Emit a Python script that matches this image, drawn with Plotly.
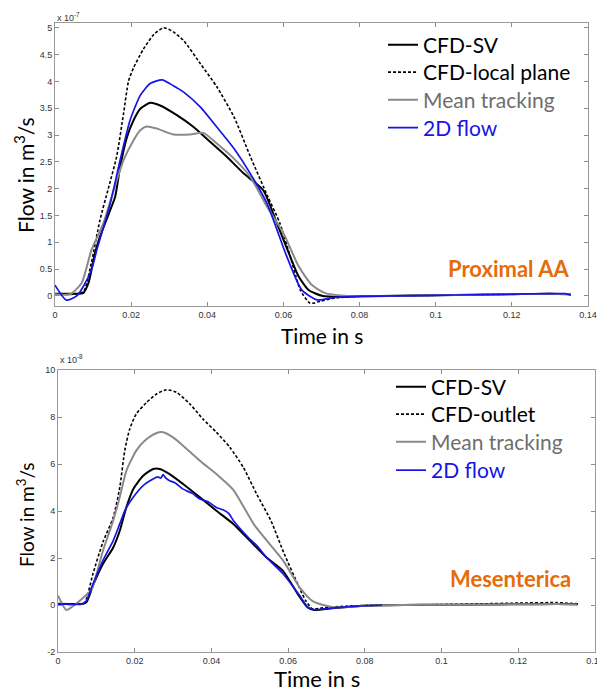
import plotly.graph_objects as go

# The page has an 8px body margin, so the figure is sized to fill the rest of the 605x693 window.
PAGE_OFF = 8
W, H = 605 - PAGE_OFF, 693 - PAGE_OFF

# ---------------- Top panel: Proximal AA (values in 1e-7 m^3/s) ----------------
top_sv_t = [0, 0.004, 0.0074, 0.0088, 0.0105, 0.0118, 0.0145, 0.0158, 0.0171, 0.0189, 0.0206, 0.0224,
            0.025, 0.0276, 0.032, 0.0364, 0.0408, 0.0452, 0.0496, 0.0547, 0.0583, 0.0618, 0.064, 0.0666,
            0.0701, 0.075, 0.08, 0.09, 0.1, 0.11, 0.12, 0.13, 0.1355]
top_sv_v = [0.04, 0.04, 0.05, 0.24, 0.8, 1.1, 1.6, 1.85, 2.4, 2.96, 3.27, 3.49,
            3.6, 3.55, 3.37, 3.15, 2.87, 2.59, 2.28, 1.97, 1.35, 0.73, 0.36, 0.11,
            0.0, -0.02, -0.01, 0.0, 0.01, 0.02, 0.03, 0.04, 0.03]

top_lp_t = [0, 0.005, 0.0075, 0.0095, 0.0118, 0.014, 0.0162, 0.018, 0.0193, 0.0206, 0.0232, 0.026,
            0.0285, 0.031, 0.0338, 0.0382, 0.0425, 0.047, 0.0513, 0.0559, 0.0591, 0.0618, 0.0633, 0.0644,
            0.067, 0.0697, 0.0736, 0.08, 0.09, 0.1, 0.11, 0.12, 0.13, 0.1355]
top_lp_v = [0.03, 0.03, 0.08, 0.6, 1.41, 2.0, 2.6, 3.4, 4.0, 4.25, 4.6, 4.88,
            5.0, 4.93, 4.76, 4.33, 3.9, 3.34, 2.6, 1.85, 1.35, 0.73, 0.36, 0.11,
            -0.14, -0.1, -0.04, -0.01, 0.0, 0.01, 0.02, 0.03, 0.04, 0.03]

top_mt_t = [0, 0.004, 0.007, 0.0096, 0.0127, 0.0154, 0.018, 0.0206, 0.0224, 0.0241, 0.0268, 0.0311,
            0.0355, 0.039, 0.0425, 0.047, 0.0513, 0.0557, 0.06, 0.064, 0.0675, 0.071, 0.076, 0.08,
            0.09, 0.1, 0.11, 0.12, 0.13, 0.1355]
top_mt_v = [0.03, 0.03, 0.24, 0.86, 1.35, 1.97, 2.53, 2.9, 3.09, 3.16, 3.12, 3.01,
            3.01, 3.04, 2.84, 2.56, 2.22, 1.66, 1.17, 0.55, 0.2, 0.05, 0.0, -0.01,
            0.0, 0.01, 0.02, 0.03, 0.04, 0.03]

top_2d_t = [0, 0.003, 0.0057, 0.0074, 0.0096, 0.011, 0.0145, 0.0171, 0.0197, 0.0224, 0.025, 0.0281,
            0.0311, 0.0338, 0.0382, 0.0425, 0.047, 0.0513, 0.0557, 0.0609, 0.0648, 0.0688, 0.0736, 0.08,
            0.09, 0.1, 0.11, 0.12, 0.13, 0.134, 0.1355]
top_2d_v = [0.2, -0.08, 0.0, 0.17, 0.49, 0.86, 1.72, 2.53, 3.27, 3.74, 3.96, 4.03,
            3.92, 3.8, 3.52, 3.15, 2.75, 2.28, 1.72, 0.73, 0.11, -0.075, -0.03, -0.01,
            0.0, 0.01, 0.02, 0.03, 0.04, 0.04, 0.01]

# ---------------- Bottom panel: Mesenterica (values in 1e-8 m^3/s) ----------------
bot_sv_t = [0, 0.0065, 0.0074, 0.0091, 0.0117, 0.0144, 0.0161, 0.0178, 0.0196, 0.0222, 0.0248, 0.0265,
            0.0291, 0.0326, 0.037, 0.0413, 0.0457, 0.05, 0.0543, 0.0586, 0.0625, 0.0651, 0.0668, 0.072,
            0.08, 0.09, 0.1, 0.11, 0.12, 0.13, 0.1355]
bot_sv_v = [0.05, 0.05, 0.11, 0.82, 1.74, 2.45, 3.16, 4.15, 4.93, 5.5, 5.79, 5.79,
            5.57, 5.15, 4.58, 4.01, 3.45, 2.74, 2.03, 1.46, 0.47, -0.1, -0.21, -0.13,
            -0.03, 0.0, 0.01, 0.02, 0.03, 0.04, 0.03]

bot_ol_t = [0, 0.0065, 0.0074, 0.0091, 0.0117, 0.0144, 0.0161, 0.0174, 0.0187, 0.0204, 0.0231, 0.0257,
            0.0283, 0.0309, 0.0344, 0.0378, 0.0413, 0.0448, 0.0483, 0.0518, 0.0555, 0.059, 0.0629, 0.0646,
            0.0664, 0.069, 0.075, 0.08, 0.09, 0.1, 0.11, 0.12, 0.13, 0.1355]
bot_ol_v = [0.05, 0.05, 0.26, 1.32, 2.67, 3.73, 5.0, 6.57, 7.49, 8.13, 8.62, 8.98,
            9.16, 9.05, 8.55, 7.91, 7.35, 6.71, 5.86, 4.72, 3.59, 2.17, 0.75, 0.18,
            -0.17, -0.12, -0.05, -0.02, 0.0, 0.02, 0.05, 0.08, 0.1, 0.05]

bot_mt_t = [0, 0.0022, 0.0043, 0.0065, 0.0087, 0.0117, 0.0144, 0.0161, 0.0178, 0.0204, 0.0231, 0.0257,
            0.0274, 0.03, 0.0326, 0.037, 0.0413, 0.0457, 0.0512, 0.0587, 0.063, 0.0665, 0.072, 0.08,
            0.09, 0.1, 0.11, 0.12, 0.13, 0.1353]
bot_mt_v = [0.4, -0.21, 0.0, 0.3, 0.65, 2.3, 3.6, 4.6, 5.7, 6.57, 7.06, 7.32,
            7.35, 7.13, 6.78, 6.14, 5.57, 4.9, 3.4, 1.89, 0.75, 0.15, -0.1, -0.03,
            0.0, 0.01, 0.02, 0.03, 0.04, 0.02]

bot_2d_t = [0, 0.0065, 0.0074, 0.0091, 0.0117, 0.0144, 0.0161, 0.0174, 0.0196, 0.0222, 0.0248, 0.026,
            0.0268, 0.0274, 0.028, 0.0291, 0.0305, 0.0326, 0.035, 0.037, 0.039, 0.0413, 0.043, 0.0445,
            0.0457, 0.05, 0.052, 0.0543, 0.0587, 0.063, 0.0651, 0.0668, 0.072, 0.078, 0.0845]
bot_2d_v = [0.05, 0.05, 0.18, 0.89, 1.89, 2.74, 3.45, 4.01, 4.58, 5.08, 5.36, 5.45,
            5.4, 5.55, 5.42, 5.29, 5.2, 4.93, 4.75, 4.51, 4.4, 4.15, 4.05, 3.9,
            3.6, 2.81, 2.5, 2.03, 1.32, 0.4, -0.1, -0.2, -0.12, -0.05, 0.0]

x_ticks = [0, 0.02, 0.04, 0.06, 0.08, 0.1, 0.12, 0.14]
x_labels = ["0", "0.02", "0.04", "0.06", "0.08", "0.1", "0.12", "0.14"]
top_y_ticks = [0, 0.5, 1, 1.5, 2, 2.5, 3, 3.5, 4, 4.5, 5]
top_y_labels = ["0", "0.5", "1", "1.5", "2", "2.5", "3", "3.5", "4", "4.5", "5"]
bot_y_ticks = [-2, 0, 2, 4, 6, 8, 10]
bot_y_labels = ["-2", "0", "2", "4", "6", "8", "10"]

top_names = ["CFD-SV", "CFD-local plane", "Mean tracking", "2D flow"]
bot_names = ["CFD-SV", "CFD-outlet", "Mean tracking", "2D flow"]

BLACK = "#000000"
GRAY = "#8a8a8a"
BLUE = "#1515e6"
ORANGE = "#E46C0A"
LEG_GRAY = "#6e6e6e"
name_colors = [BLACK, BLACK, LEG_GRAY, BLUE]


def px(x):
    """page pixel x -> paper fraction"""
    return (x - PAGE_OFF) / W


def py(y):
    """page pixel y -> paper fraction"""
    return 1 - (y - PAGE_OFF) / H


fig = go.Figure()

styles = [dict(color=BLACK, width=2),
          dict(color=BLACK, width=1.6, dash="3px,2px"),
          dict(color=GRAY, width=2),
          dict(color=BLUE, width=1.7)]

leg_font = dict(family="Lato", size=21, color="black")
legends = {}


def add_panel(xa, ya, series, names, first_leg, text_x, centers):
    for i, ((t, v), name, st) in enumerate(zip(series, names, styles)):
        k = first_leg + i
        leg_id = "legend" if k == 1 else f"legend{k}"
        label = f"<span style='color:{name_colors[i]}'>{name}</span>"
        fig.add_trace(go.Scatter(x=t, y=v, mode="lines",
                                 line=dict(st, shape="spline", smoothing=0.6),
                                 name=label, xaxis=xa, yaxis=ya, legend=leg_id,
                                 hoverinfo="skip"))
        legends[leg_id] = dict(x=px(text_x - 41), y=py(centers[i]), xanchor="left",
                               yanchor="middle", bgcolor="rgba(0,0,0,0)", font=leg_font,
                               itemwidth=30)


add_panel("x", "y",
          [(top_sv_t, top_sv_v), (top_lp_t, top_lp_v), (top_mt_t, top_mt_v), (top_2d_t, top_2d_v)],
          top_names, 1, 424, [45, 72.5, 100, 128])
add_panel("x2", "y2",
          [(bot_sv_t, bot_sv_v), (bot_ol_t, bot_ol_v), (bot_mt_t, bot_mt_v), (bot_2d_t, bot_2d_v)],
          bot_names, 5, 432, [387, 414.5, 442, 470.5])

axis_common = dict(ticks="inside", ticklen=4, tickcolor="#8c8c8c", showline=True,
                   linecolor="#9a9a9a", linewidth=1, mirror="ticks", showgrid=False,
                   zeroline=False, automargin=False,
                   tickfont=dict(family="Liberation Sans, Arial", size=9, color="#333333"))

fig.update_layout(
    template="none",
    width=W, height=H,
    margin=dict(l=0, r=0, t=0, b=0, pad=0, autoexpand=False),
    paper_bgcolor="white", plot_bgcolor="white",
    xaxis=dict(domain=[px(55), px(588)], range=[0, 0.14], tickvals=x_ticks, ticktext=x_labels,
               anchor="y", **axis_common),
    yaxis=dict(domain=[py(306), py(23)], range=[-0.19, 5.09], tickvals=top_y_ticks,
               ticktext=top_y_labels, anchor="x", **axis_common),
    xaxis2=dict(domain=[px(58), px(595)], range=[0, 0.14], tickvals=x_ticks, ticktext=x_labels,
                anchor="y2", **axis_common),
    yaxis2=dict(domain=[py(652), py(370)], range=[-2, 10], tickvals=bot_y_ticks,
                ticktext=bot_y_labels, anchor="x2", **axis_common),
    showlegend=True,
    **legends,
)

ann = []
ann.append(dict(text="Flow in m<sup>3</sup>/s", x=px(24), y=py(175), textangle=-90,
                font=dict(family="Lato", size=21, color="black")))
ann.append(dict(text="Flow in m<sup>3</sup>/s", x=px(25), y=py(515), textangle=-90,
                font=dict(family="Lato", size=19, color="black")))
ann.append(dict(text="Time in s", x=px(322), y=py(335), font=dict(family="Lato", size=21, color="black")))
ann.append(dict(text="Time in s", x=px(317), y=py(678), font=dict(family="Lato", size=22, color="black")))
ann.append(dict(text="<b>Proximal AA</b>", x=px(508), y=py(268), font=dict(family="Lato", size=22, color=ORANGE)))
ann.append(dict(text="<b>Mesenterica</b>", x=px(510), y=py(578), font=dict(family="Lato", size=22, color=ORANGE)))
small = dict(family="Liberation Sans, Arial", size=9, color="#333333")
ann.append(dict(text="x 10<sup>-7</sup>", x=px(55), y=py(17), xanchor="left", font=small))
ann.append(dict(text="x 10<sup>-8</sup>", x=px(58), y=py(359), xanchor="left", font=small))
for a in ann:
    a.update(xref="paper", yref="paper", showarrow=False)
    a.setdefault("xanchor", "center")
    a.setdefault("yanchor", "middle")
fig.update_layout(annotations=ann)

fig.write_html("out.html")
